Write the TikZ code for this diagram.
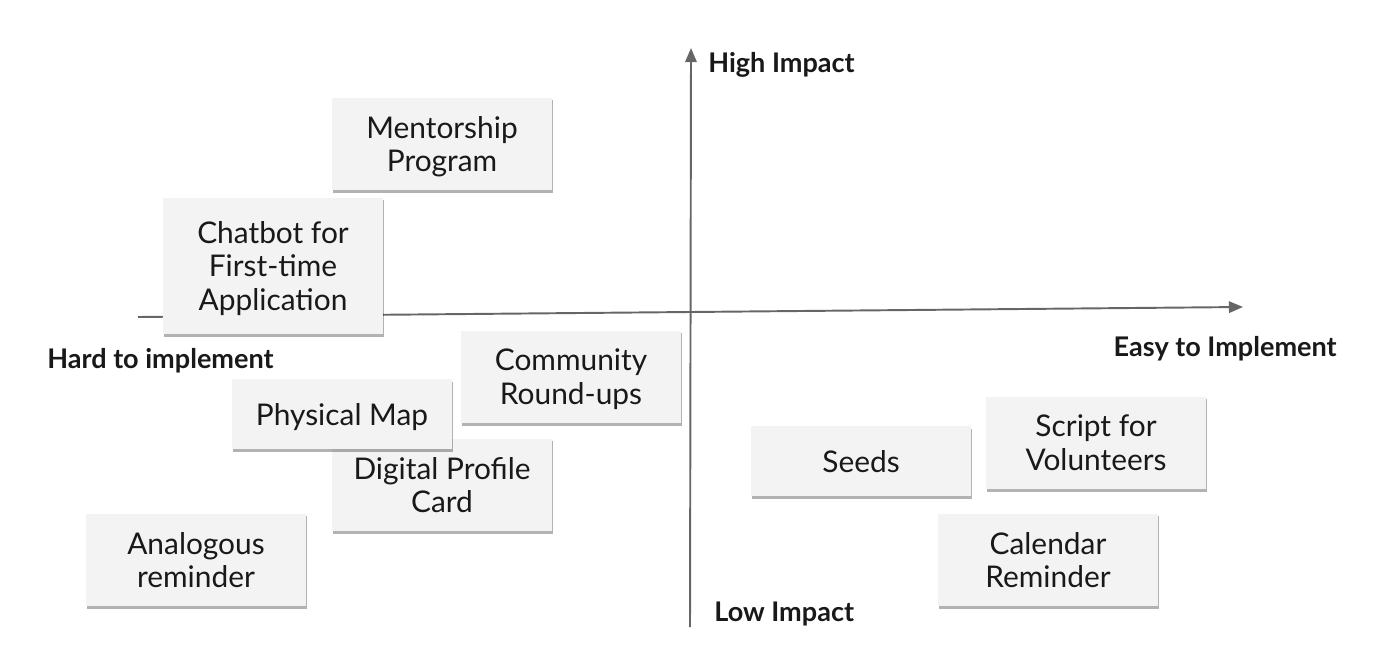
\documentclass[tikz,border=0pt]{standalone}
\usepackage{fontspec}
\setmainfont{Lato}
\usetikzlibrary{arrows.meta,shadows}

\definecolor{boxgray}{HTML}{F3F3F3}
\definecolor{axisgray}{HTML}{666666}

\tikzset{
	idea/.style={fill=boxgray, text=black!90, align=center, minimum width=4.4cm,
		inner sep=0pt, text depth=0pt, font=\fontsize{17}{19.3}\selectfont,
		drop shadow={shadow xshift=0.6pt, shadow yshift=-1.6pt, fill=black, opacity=0.3}},
	axislabel/.style={font=\bfseries\fontsize{15.4}{18}\selectfont, text=black!90, inner sep=0pt},
	axisline/.style={axisgray, line width=1.1pt, -{Triangle[length=8pt, width=6.5pt]}}
}

\begin{document}
\begin{tikzpicture}[x=0.02cm, y=-0.02cm]
			\useasboundingbox (0, 0) rectangle (1392, 662);

			% axes
			\coordinate (west) at (138, 317);
			\coordinate (east) at (1243, 307);
			\coordinate (south) at (690, 627);
			\coordinate (north) at (691, 48);
			\draw[axisline] (west) -- (east);
			\draw[axisline] (south) -- (north);

			\node[axislabel, anchor=west] (high) at (708, 65) {High Impact};
			\node[axislabel, anchor=west] (low) at (714, 614) {Low Impact};
			\node[axislabel, anchor=west] (hard) at (47, 361) {Hard to implement};
			\node[axislabel, anchor=east] (easy) at (1337, 349) {Easy to Implement};

			% ideas
			\node[idea, minimum height=1.86cm] (mentor) at (442, 144) {Mentorship\\Program};
			\node[idea, minimum height=2.74cm] (chatbot) at (273, 266) {Chatbot for\\First-time\\Application};
			\node[idea, minimum height=1.86cm] (community) at (571, 377) {Community\\Round-ups};
			\node[idea, minimum height=1.86cm] (profile) at (442, 485) {Digital Profile\\Card};
			\node[idea, minimum height=1.4cm] (map) at (342, 414) {Physical Map};
			\node[idea, minimum height=1.86cm] (analog) at (196, 560) {Analogous\\reminder};
			\node[idea, minimum height=1.4cm] (seeds) at (861, 461) {Seeds};
			\node[idea, minimum height=1.86cm] (script) at (1096, 443) {Script for\\Volunteers};
			\node[idea, minimum height=1.86cm] (calendar) at (1048, 560) {Calendar\\Reminder};

		\end{tikzpicture}
\end{document}
